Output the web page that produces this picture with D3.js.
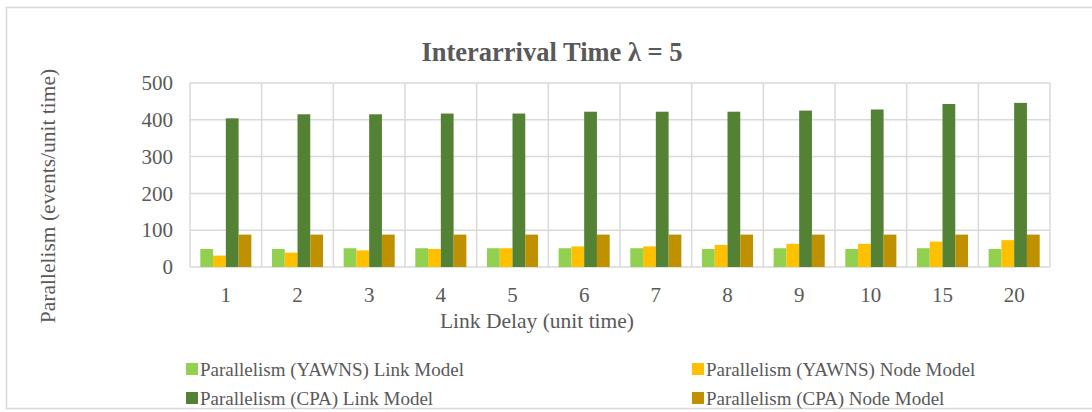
<!DOCTYPE html>
<html>
<head>
<meta charset="utf-8">
<script src="https://cdn.jsdelivr.net/npm/d3@7"></script>
<style>
  body { margin: 0; background: #fff; }
  text { font-family: "Liberation Serif", "DejaVu Serif", "Times New Roman", Times, serif; fill: #595959; }
</style>
</head>
<body>
<div id="chart-area"></div>
<script>
// chart data
var delays = ["1", "2", "3", "4", "5", "6", "7", "8", "9", "10", "15", "20"];
var seriesNames = [
    "Parallelism (YAWNS) Link Model",
    "Parallelism (YAWNS) Node Model",
    "Parallelism (CPA) Link Model",
    "Parallelism (CPA) Node Model"
];
var yawnsLink = [49, 49, 51, 51, 51, 51, 51, 49, 51, 49, 51, 49];
var yawnsNode = [31, 39, 45, 49, 51, 56, 56, 60, 63, 63, 69, 73];
var cpaLink   = [404, 415, 415, 417, 417, 422, 422, 422, 425, 428, 443, 446];
var cpaNode   = [88, 88, 88, 88, 88, 88, 88, 88, 88, 88, 88, 88];
var yTicks = [0, 100, 200, 300, 400, 500];
var colours = ["#92D050", "#FFC000", "#548235", "#BF9000"];

var allSeries = [yawnsLink, yawnsNode, cpaLink, cpaNode];

var W = 1092, H = 412;
var plot = {left: 190, right: 1050, top: 83, bottom: 267};
var serif = '"Liberation Serif", "DejaVu Serif", "Times New Roman", Times, serif';

var svg = d3.select("#chart-area").append("svg")
    .attr("width", W)
    .attr("height", H);

// outer chart border
svg.append("rect")
    .attr("x", 6.5).attr("y", 7.5)
    .attr("width", W + 10).attr("height", 401)
    .attr("fill", "none")
    .attr("stroke", "#d9d9d9")
    .attr("stroke-width", 1.5);

var x0 = d3.scaleBand()
    .domain(delays)
    .range([plot.left, plot.right])
    .padding(0);

var x1 = d3.scaleBand()
    .domain(d3.range(4))
    .range([10.3, x0.bandwidth() - 10.3])
    .padding(0);

var y = d3.scaleLinear()
    .domain([0, 500])
    .range([plot.bottom, plot.top]);

// horizontal gridlines
svg.append("g")
    .selectAll("line")
    .data(yTicks)
    .enter().append("line")
        .attr("x1", plot.left).attr("x2", plot.right)
        .attr("y1", (d) => y(d)).attr("y2", (d) => y(d))
        .attr("stroke", "#d9d9d9")
        .attr("stroke-width", 1.5);

// vertical category lines
svg.append("g")
    .selectAll("line")
    .data(delays.concat(["end"]))
    .enter().append("line")
        .attr("x1", (d, i) => plot.left + i * x0.bandwidth())
        .attr("x2", (d, i) => plot.left + i * x0.bandwidth())
        .attr("y1", plot.top).attr("y2", plot.bottom)
        .attr("stroke", "#d9d9d9")
        .attr("stroke-width", 1.5);

// bars
var groups = svg.append("g").selectAll("g")
    .data(delays)
    .enter().append("g")
        .attr("transform", (d) => "translate(" + x0(d) + ",0)");

groups.selectAll("rect")
    .data((d, i) => allSeries.map((s, k) => ({k: k, v: s[i]})))
    .enter().append("rect")
        .attr("x", (d) => x1(d.k))
        .attr("y", (d) => y(d.v))
        .attr("width", x1.bandwidth())
        .attr("height", (d) => y(0) - y(d.v))
        .attr("fill", (d) => colours[d.k]);

// y axis labels
var yAxis = d3.axisLeft(y).tickValues(yTicks).tickSize(0).tickPadding(17);
svg.append("g")
    .attr("transform", "translate(" + plot.left + ",0)")
    .call(yAxis)
    .attr("font-family", serif)
    .call((g) => g.select(".domain").remove())
    .selectAll("text")
        .style("font-size", "21px")
        .attr("fill", "#595959");

// x axis labels
var xAxis = d3.axisBottom(x0).tickSize(0).tickPadding(20);
svg.append("g")
    .attr("transform", "translate(0," + plot.bottom + ")")
    .call(xAxis)
    .attr("font-family", serif)
    .call((g) => g.select(".domain").remove())
    .selectAll("text")
        .style("font-size", "21px")
        .attr("fill", "#595959");

// title
svg.append("text")
    .attr("x", 552).attr("y", 61)
    .attr("text-anchor", "middle")
    .style("font-size", "26.5px")
    .style("font-weight", "bold")
    .text("Interarrival Time λ = 5");

// axis titles
svg.append("text")
    .attr("x", 537).attr("y", 328)
    .attr("text-anchor", "middle")
    .style("font-size", "21.5px")
    .text("Link Delay (unit time)");

svg.append("text")
    .attr("transform", "translate(55,196) rotate(-90)")
    .attr("text-anchor", "middle")
    .style("font-size", "21.5px")
    .text("Parallelism (events/unit time)");

// legend
var legendPos = [[186, 376], [692, 376], [186, 405], [692, 405]];
var legend = svg.append("g").selectAll("g")
    .data(seriesNames)
    .enter().append("g")
        .attr("transform", (d, i) => "translate(" + legendPos[i][0] + "," + legendPos[i][1] + ")");

legend.append("rect")
    .attr("x", 0).attr("y", -13)
    .attr("width", 12).attr("height", 12)
    .attr("fill", (d, i) => colours[i]);

legend.append("text")
    .attr("x", 14).attr("y", 0)
    .style("font-size", "19px")
    .text((d) => d);
</script>
</body>
</html>
